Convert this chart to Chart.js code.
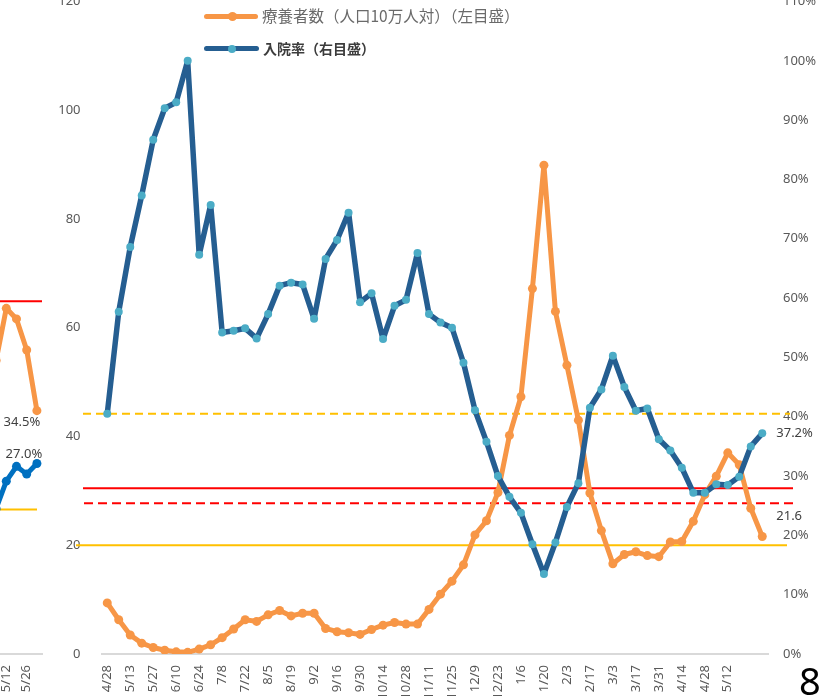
<!DOCTYPE html>
<html>
<head>
<meta charset="utf-8">
<script src="https://cdn.jsdelivr.net/npm/chart.js@4.4.1/dist/chart.umd.min.js"></script>
<style>
html,body{margin:0;padding:0;width:826px;height:696px;overflow:hidden;background:#fff;}
body{position:relative;}
#main{position:absolute;left:0;top:-40px;}
#prev{position:absolute;left:-100px;top:-40px;}
.lg-line{position:absolute;height:5px;border-radius:3px;}
.lg-dot{position:absolute;border-radius:50%;}
.lg-text{position:absolute;white-space:nowrap;font-family:'Noto Sans CJK JP','Noto Sans',sans-serif;line-height:1;}
#page{position:absolute;left:799px;top:661px;font-family:'Noto Sans',sans-serif;font-size:38px;line-height:38px;color:#000;}
</style>
</head>
<body>
<canvas id="prev" width="182" height="800"></canvas>
<canvas id="main" width="826" height="800"></canvas>

<div class="lg-line" style="left:204px;top:13.5px;width:54px;background:#F79646;"></div>
<div class="lg-dot" style="left:227.5px;top:11.5px;width:9px;height:9px;background:#F79646;"></div>
<div class="lg-text" id="lg1" style="left:262px;top:8px;font-size:15.5px;color:#6a6a6a;"></div>
<div class="lg-line" style="left:204px;top:46px;width:55px;background:#255E91;"></div>
<div class="lg-dot" style="left:228px;top:44.5px;width:8px;height:8px;background:#4BACC6;"></div>
<div class="lg-text" id="lg2" style="left:263px;top:41px;font-size:14px;font-weight:bold;color:#3c3c3c;"></div>
<div id="page">8</div>

<script>
// ---------- data: main chart ----------
const categories = ['4/28','5/6','5/13','5/20','5/27','6/3','6/10','6/17','6/24','7/1','7/8','7/15','7/22','7/29','8/5','8/12','8/19','8/26','9/2','9/9','9/16','9/23','9/30','10/7','10/14','10/21','10/28','11/4','11/11','11/18','11/25','12/2','12/9','12/16','12/23','12/30','1/6','1/13','1/20','1/27','2/3','2/10','2/17','2/24','3/3','3/10','3/17','3/24','3/31','4/7','4/14','4/21','4/28','5/5','5/12','5/19','5/26','6/2'];
const patientsPer100k = [9.4,6.3,3.5,2.0,1.2,0.7,0.4,0.3,0.9,1.7,3.0,4.6,6.3,6.0,7.2,8.0,7.0,7.5,7.5,4.7,4.1,3.9,3.6,4.5,5.3,5.8,5.5,5.5,8.2,11.0,13.4,16.4,21.9,24.5,29.7,40.2,47.3,67.2,89.9,63.0,53.1,43.0,29.6,22.7,16.6,18.3,18.8,18.1,17.9,20.6,20.7,24.4,29.3,32.7,37.0,34.8,26.8,21.6];
const admissionRate = [40.5,57.7,68.6,77.3,86.7,92.0,93.0,100.0,67.3,75.7,54.2,54.5,54.9,53.2,57.3,62.1,62.6,62.3,56.5,66.6,69.8,74.4,59.3,60.8,53.1,58.7,59.7,67.6,57.3,55.9,55.0,49.1,41.1,35.8,30.0,26.5,23.8,18.5,13.5,18.8,24.8,28.8,41.5,44.6,50.3,45.0,41.0,41.4,36.2,34.3,31.4,27.2,27.2,28.6,28.5,29.9,35.0,37.2];
const seriesNames = ['療養者数（人口10万人対）（左目盛）','入院率（右目盛）'];
const leftAxisRange = [0, 120, 20];     // min, max, step
const rightAxisRange = [0, 110, 10];    // min, max, step (%)
const lastLabeledIndex = 54;            // last category with a date label
const leftThresholds = [30.5, 20];      // red solid, yellow solid (left scale)
const rightThresholds = [40.5, 25.4];   // yellow dashed, red dashed (right scale, %)

// ---------- data: previous chart (cut off at left edge) ----------
const prevCategories = ['5/5','5/12','5/19','5/26','6/2'];
const prevOrange = [41.6, 49.0, 47.5, 43.1, 34.5];
const prevBlue = [20.6, 24.5, 26.6, 25.5, 27.0];
const prevThresholds = [50, 20.5];

document.getElementById('lg1').textContent = seriesNames[0];
document.getElementById('lg2').textContent = seriesNames[1];

const TICK_FONT = {family:"'Noto Sans', sans-serif", size:13};
const TICK_COLOR = '#595959';
const ORANGE = '#F79646', BLUE = '#255E91', BLUE_MK = '#4BACC6', BLUE2 = '#0070C0';
const RED = '#FF0000', YELLOW = '#FFC000';

function xScale(showIndex) {
  return {
    type:'category', offset:true,
    grid:{display:false, drawTicks:false},
    border:{display:true, color:'#D9D9D9', width:2},
    ticks:{autoSkip:false, minRotation:90, maxRotation:90, padding:11, font:TICK_FONT, color:TICK_COLOR,
      callback:function(v,i){ return showIndex(i) ? this.getLabelForValue(v) : ''; }},
    afterFit:s=>{ s.height = 106; }
  };
}

// reference lines plugin for main chart
const mainRefLines = {
  id:'mainRefLines',
  beforeDatasetsDraw(chart){
    const {ctx, chartArea:a, scales} = chart;
    const lines = [
      {scale:'yR', v:rightThresholds[0], c:YELLOW, w:2, d:[8,5], l:-18.5, r:22},
      {scale:'yL', v:leftThresholds[0], c:RED, w:2, d:[], l:-18.5, r:25},
      {scale:'yR', v:rightThresholds[1], c:RED, w:2, d:[9,5], l:-17.5, r:25},
      {scale:'yL', v:leftThresholds[1], c:YELLOW, w:1.8, d:[], l:-25.5, r:19},
    ];
    ctx.save();
    lines.forEach(L=>{
      const y = scales[L.scale].getPixelForValue(L.v);
      ctx.beginPath();
      ctx.setLineDash(L.d);
      ctx.strokeStyle = L.c; ctx.lineWidth = L.w;
      ctx.moveTo(a.left + L.l, y); ctx.lineTo(a.right + L.r, y);
      ctx.stroke();
    });
    ctx.restore();
  },
  afterDatasetsDraw(chart){
    const {ctx} = chart;
    ctx.save();
    ctx.font = "13px 'Noto Sans', sans-serif";
    ctx.fillStyle = '#404040';
    ctx.textBaseline = 'middle';
    ctx.textAlign = 'left';
    const mb = chart.getDatasetMeta(1).data; const pb = mb[mb.length-1];
    ctx.fillText(admissionRate[admissionRate.length-1].toFixed(1)+'%', pb.x+14, pb.y);
    const mo = chart.getDatasetMeta(0).data; const po = mo[mo.length-1];
    ctx.fillText(patientsPer100k[patientsPer100k.length-1].toFixed(1), po.x+14, po.y-20);
    ctx.restore();
  }
};

new Chart(document.getElementById('main'), {
  type:'line',
  data:{
    labels:categories,
    datasets:[
      {label:seriesNames[0], data:patientsPer100k, yAxisID:'yL', order:2,
       borderColor:ORANGE, borderWidth:5, pointRadius:4.5, pointBackgroundColor:ORANGE, pointBorderWidth:0,
       borderJoinStyle:'round', borderCapStyle:'round', tension:0},
      {label:seriesNames[1], data:admissionRate, yAxisID:'yR', order:1,
       borderColor:BLUE, borderWidth:5.5, pointRadius:4, pointBackgroundColor:BLUE_MK, pointBorderWidth:0,
       borderJoinStyle:'round', borderCapStyle:'round', tension:0}
    ]
  },
  options:{
    responsive:false, animation:false, devicePixelRatio:1,
    layout:{padding:{top:41.5, left:0, right:0, bottom:0}},
    plugins:{legend:{display:false}, tooltip:{enabled:false}},
    scales:{
      x: xScale(i => i % 2 === 0 && i <= lastLabeledIndex),
      yL:{position:'left', min:leftAxisRange[0], max:leftAxisRange[1],
        grid:{display:false, drawTicks:false}, border:{display:false},
        ticks:{stepSize:leftAxisRange[2], padding:21, font:TICK_FONT, color:TICK_COLOR},
        afterFit:s=>{ s.width = 101.5; }},
      yR:{position:'right', min:rightAxisRange[0], max:rightAxisRange[1],
        grid:{display:false, drawTicks:false}, border:{display:false},
        ticks:{stepSize:rightAxisRange[2], padding:15, font:TICK_FONT, color:TICK_COLOR, callback:v=>v+'%'},
        afterFit:s=>{ s.width = 58; }}
    }
  },
  plugins:[mainRefLines]
});

// previous (cropped) chart at the left edge
const prevPlugin = {
  id:'prevPlugin',
  beforeDatasetsDraw(chart){
    const {ctx, chartArea:a, scales} = chart;
    ctx.save();
    ctx.lineWidth = 2;
    ctx.strokeStyle = RED;
    let y = scales.y.getPixelForValue(prevThresholds[0]);
    ctx.beginPath(); ctx.moveTo(a.left, y); ctx.lineTo(a.right, y); ctx.stroke();
    ctx.strokeStyle = YELLOW;
    y = scales.y.getPixelForValue(prevThresholds[1]);
    ctx.beginPath(); ctx.moveTo(a.left, y); ctx.lineTo(a.right-5, y); ctx.stroke();
    ctx.restore();
  },
  afterDatasetsDraw(chart){
    const {ctx} = chart;
    ctx.save();
    ctx.font = "13px 'Noto Sans', sans-serif";
    ctx.fillStyle = '#404040';
    ctx.textBaseline = 'middle';
    ctx.textAlign = 'center';
    const mo = chart.getDatasetMeta(0).data; const po = mo[mo.length-1];
    ctx.fillText(prevOrange[prevOrange.length-1].toFixed(1)+'%', po.x-15, po.y+12);
    const mb = chart.getDatasetMeta(1).data; const pb = mb[mb.length-1];
    ctx.fillText(prevBlue[prevBlue.length-1].toFixed(1)+'%', pb.x-13, pb.y-9.5);
    ctx.restore();
  }
};

new Chart(document.getElementById('prev'), {
  type:'line',
  data:{
    labels:prevCategories,
    datasets:[
      {data:prevOrange, borderColor:ORANGE, borderWidth:5, pointRadius:4.5, pointBackgroundColor:ORANGE, pointBorderWidth:0, borderJoinStyle:'round', tension:0},
      {data:prevBlue, borderColor:BLUE2, borderWidth:5, pointRadius:4.5, pointBackgroundColor:BLUE2, pointBorderWidth:0, borderJoinStyle:'round', tension:0}
    ]
  },
  options:{
    responsive:false, animation:false, devicePixelRatio:1,
    layout:{padding:{top:41.5, left:91, right:40, bottom:0}},
    plugins:{legend:{display:false}, tooltip:{enabled:false}},
    scales:{
      x: xScale(i => i % 2 === 1 && i < prevCategories.length - 1),
      y:{display:false, min:0, max:92.5}
    }
  },
  plugins:[prevPlugin]
});
</script>
</body>
</html>
